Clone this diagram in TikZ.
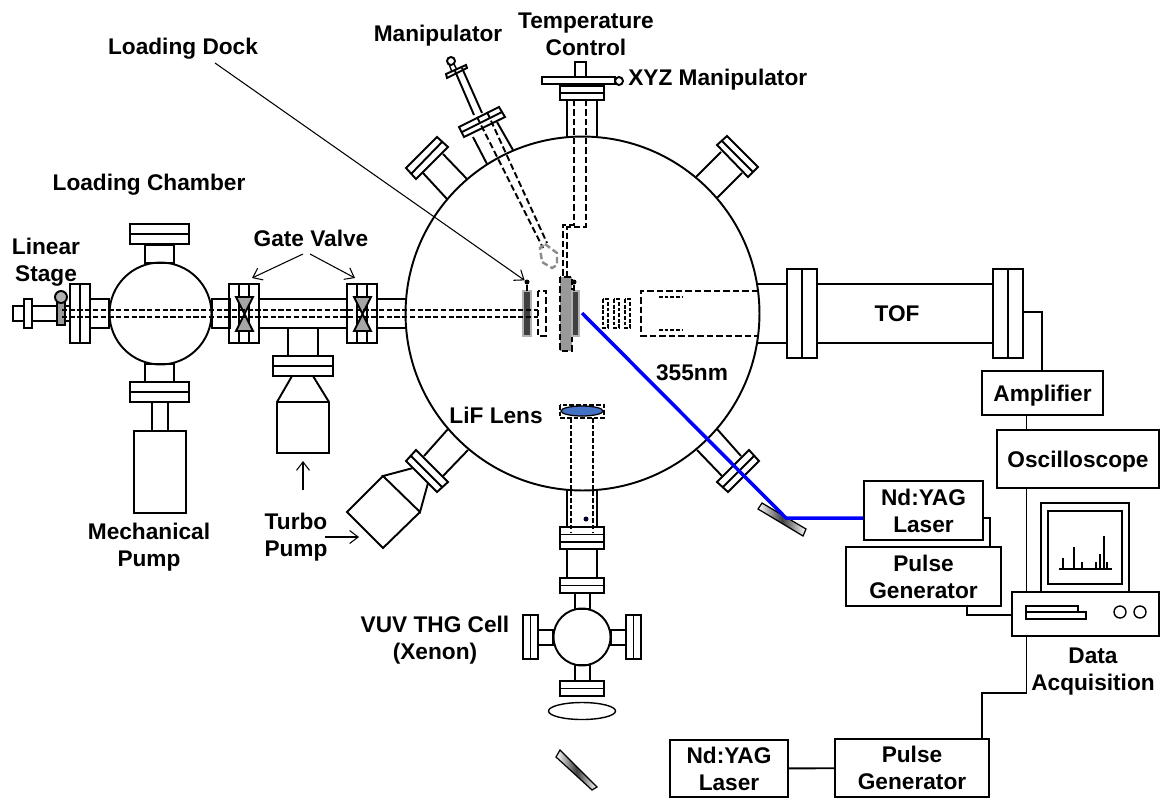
\documentclass[tikz,border=0pt]{standalone}
\usepackage{fontspec}
\setmainfont{Liberation Sans}
\usetikzlibrary{arrows.meta}
\definecolor{lensblue}{HTML}{4472C4}

\begin{document}
\begin{tikzpicture}[
    x=0.02cm, y=-0.02cm,
    part/.style={draw=black, line width=1.1pt, line join=miter},
    hidden/.style={draw=black, line width=1.1pt, dash pattern=on 3.6pt off 1.8pt},
    lbl/.style={font=\bfseries\fontsize{12.9pt}{15.5pt}\selectfont, align=center, inner sep=0pt},
    box/.style={lbl, draw=black, line width=1.1pt, inner sep=0pt},
    vessel/.style={circle, draw=black, line width=1.1pt, inner sep=0pt},
    wire/.style={draw=black, line width=1.1pt},
    arrow/.style={-{Straight Barb[length=1.7mm,width=2.6mm]}, draw=black, line width=0.6pt},
    beam/.style={draw=blue, line width=2pt, line join=round},
    mirrorbar/.style={part, line width=0.7pt, left color=white, right color=white, middle color=black!75}
]
\useasboundingbox (0,0) rectangle (1165,799);

% Chambers
\node[vessel, minimum size=7.08cm] (chamber) at (582.5,313.5) {};
\node[vessel, minimum size=2.04cm] (loadlock) at (160.5,313.5) {};
\node[vessel, minimum size=1.14cm] (cell) at (582,637) {};

% Flanges with the seam along x
\foreach \xa/\xb/\ya/\yb in {130/189/224/244, 130/189/382/402, 273/333/356/376, 560/604/86/100, 560/604/578/593, 560/604/681/696}
    \draw[part] (\xa,\ya) rectangle (\xb,\yb) (\xa,{(\ya+\yb)/2}) -- (\xb,{(\ya+\yb)/2});
% Flanges with the seam along y
\foreach \xa/\xb/\ya/\yb in {70/90/284/343, 523/538/615/659, 626/641/615/659, 787/817/269/358, 993/1023/269/358}
    \draw[part] (\xa,\ya) rectangle (\xb,\yb) ({(\xa+\xb)/2},\ya) -- ({(\xa+\xb)/2},\yb);

% Short pipes
\foreach \xa/\xb/\ya/\yb in {145/174/245/263, 145/174/364/382, 152/168/402/431, 90/109/299/328, 212/230/299/328, 259/347/299/328, 288/318/328/356, 567/597/549/578, 575/590/593/609, 575/590/665/681, 538/553/630/645, 611/626/630/645, 817/993/284/343}
    \draw[part] (\xa,\ya) rectangle (\xb,\yb);
\draw[part] (377,299) -- (406,299) (377,328) -- (406,328) (377,299) -- (377,328);
\draw[part] (787,284) -- (757,284) (787,343) -- (757,343);
\draw[part] (567,100) -- (567,137) (597,100) -- (597,137);
\draw[part] (567,490) -- (567,527) (597,490) -- (597,527);

% Gate valves
\foreach \xa in {229,347}{
    \draw[part] (\xa,284) rectangle (\xa+30,343) (\xa+10,284) -- (\xa+10,343) (\xa+20,284) -- (\xa+20,343);
    \draw[part, fill=black!35] (\xa+7,297) -- (\xa+24,297) -- (\xa+7,331) -- (\xa+24,331) -- cycle;
}

% Linear stage
\draw[part] (13,306) rectangle (24,321);
\draw[part] (24,299) rectangle (32,328);
\draw[part] (32,306) -- (70,306) (32,321) -- (70,321);
\draw[part, fill=black!40] (57,300) rectangle (65,325);
\draw[part, fill=black!30] (61,297) circle[radius=6];

% Mechanical and turbo pumps
\draw[part] (134,431) rectangle (186,513);
\draw[part] (292,376) -- (277,402) -- (277,453) -- (329,453) -- (329,402) -- (313,376) (277,402) -- (329,402);

% Angled ports
\draw[part] (406,168) -- (437,137) -- (448,147) -- (416,179) -- cycle (411,174) -- (442,142);
\draw[part] (423,173) -- (447,199) (443,154) -- (467,179);
\draw[part] (727,136) -- (758,167) -- (748,177) -- (717,145) -- cycle (722,141) -- (753,172);
\draw[part] (721,152) -- (696,177) (742,173) -- (717,198);
\draw[part] (416,450) -- (406,461) -- (437,492) -- (448,482) -- cycle (411,456) -- (442,487);
\draw[part] (448,429) -- (424,456) (468,450) -- (443,476);
\draw[part] (749,450) -- (759,461) -- (728,492) -- (717,482) -- cycle (754,456) -- (723,487);
\draw[part] (717,429) -- (741,456) (697,450) -- (722,476);
\draw[part] (413,468) -- (383,476) -- (420,512) -- (428,483) (383,476) -- (347,512) -- (383,548) -- (420,512);

% Manipulator
\draw[part] (459,127) -- (499,107) -- (505,117) -- (464,137) -- cycle (462,132) -- (502,112);
\draw[part] (473,137) -- (487,164) (497,122) -- (513,150);
\draw[part] (455,71) -- (474,115) (462,68) -- (482,113);
\draw[part] (446,74) -- (466,65) -- (467,68) -- (447,78) -- cycle;
\draw[part, line width=0.8pt] (449,64) -- (452,72) (454,64) -- (457,70);
\draw[part, fill=white] (451,61) circle[radius=4];
\draw[hidden] (477,117) -- (543,248) (487,112) -- (547,243);
\draw[hidden, draw=black!45, line width=1.4pt] (545,244) -- (557,253) -- (557,265) -- (552,268) -- (542,262) -- (540,248) -- cycle;

% Temperature control and XYZ stage
\draw[part] (575,62) rectangle (586,77);
\draw[part] (542,77) rectangle (615,84);
\draw[part] (560,84) -- (560,86) (604,84) -- (604,86);
\draw[part] (619,81) circle[radius=4];
\draw[hidden] (574,100) -- (574,225) -- (563,225) -- (563,277);
\draw[hidden] (586,100) -- (586,227) -- (567,227) -- (567,277);

% Sample holders inside the chamber
\draw[hidden, fill=black!40] (560,277) rectangle (572,351);
\draw[draw=black!30, line width=1pt, fill=black!75] (572,291) rectangle (579,336);
\draw[draw=black!30, line width=1pt, fill=black!75] (523,291) rectangle (531,336);
\draw[hidden] (538,291) rectangle (546,336);
\draw[hidden, dash pattern=on 3pt off 1.4pt] (62,310) -- (538,310) (62,317) -- (538,317);
\node[circle, fill=black, inner sep=0pt, minimum size=0.1cm] (dockpin) at (527,282) {};
\node[circle, fill=black, inner sep=0pt, minimum size=0.1cm] (samplepin) at (574,282) {};
\draw[part, line width=0.6pt] (dockpin) -- (527,291) (samplepin) -- (574,291);

% Ion optics and TOF entrance
\foreach \xa in {603,614,625}
    \draw[hidden, line width=0.9pt, dash pattern=on 2.2pt off 1pt] (\xa,299) rectangle (\xa+5,328);
\draw[hidden] (758,291) -- (641,291) -- (641,336) -- (758,336);
\draw[hidden, line width=0.9pt, dash pattern=on 2.2pt off 1pt] (659,297) -- (682,297) (659,330) -- (682,330);

% Lens and VUV cell
\draw[part, fill=lensblue, line width=0.7pt] (582,411) ellipse[x radius=21, y radius=5];
\draw[hidden, line width=0.9pt, dash pattern=on 2.6pt off 1.2pt] (560,405) rectangle (604,418);
\draw[hidden, line width=0.9pt, dash pattern=on 2.6pt off 1.2pt] (571,418) -- (571,533) (593,418) -- (593,533);
\draw[part] (560,527) rectangle (604,549) (560,534.5) -- (604,534.5) (560,542) -- (604,542);
\fill[black!85!blue] (586,519) circle[radius=2.5];
\draw[part, line width=0.8pt] (582,711) ellipse[x radius=33.5, y radius=8.5];
\draw[mirrorbar] (556,757) -- (560,750) -- (597,787) -- (592,790) -- cycle;

% Instrument boxes
\node[box, text depth=0pt, minimum width=2.42cm, minimum height=0.88cm] (amp) at (1042.5,393) {Amplifier};
\node[box, text depth=0pt, minimum width=3.24cm, minimum height=1.16cm] (osc) at (1078,459) {Oscilloscope};
\node[box, minimum width=2.38cm, minimum height=1.18cm] (yag) at (923.5,510.5) {Nd:YAG\\Laser};
\node[box, minimum width=3.1cm, minimum height=1.18cm] (pulse) at (923.5,576.5) {Pulse\\Generator};
\node[box, minimum width=2.36cm, minimum height=1.14cm] (yagb) at (729,768.5) {Nd:YAG\\Laser};
\node[box, minimum width=3.08cm, minimum height=1.16cm] (pulseb) at (912,768) {Pulse\\Generator};
\node[box, minimum width=2.94cm, minimum height=0.88cm] (pc) at (1085.5,614) {};

% Computer
\draw[part] (1041,592) -- (1041,503) -- (1129,503) -- (1129,592);
\draw[part] (1048,511) rectangle (1122,584);
\draw[part, line width=0.7pt] (1059,569) -- (1112,569);
\foreach \xa/\ya in {1063/558, 1074/547, 1082/562, 1096/562, 1100/554, 1104/536, 1107/562}
    \draw[part, line width=0.7pt] (\xa,569) -- (\xa,\ya);
\draw[part, line width=0.8pt] (1026,606) rectangle (1078,612) (1026,612) rectangle (1086,619);
\draw[part, line width=0.8pt] (1120,612) circle[radius=6] (1140,612) circle[radius=6];

% Wiring
\coordinate (tofend) at (1023,312);
\coordinate (toftap) at (1042,312);
\coordinate (bus) at (1026.5,693);
\coordinate (daqturn) at (982,693);
\coordinate (yagtap) at (990,518);
\coordinate (pulsetap) at (967,615);
\draw[wire] (tofend) -- (toftap) -- (amp.north -| toftap);
\draw[wire] (amp.south -| bus) -- (osc.north -| bus);
\draw[wire] (osc.south -| bus) -- (pc.north -| bus);
\draw[wire] (pc.south -| bus) -- (bus) -- (daqturn) -- (pulseb.north -| daqturn);
\draw[wire] (yagb) -- (pulseb);
\draw[wire] (yag.east |- yagtap) -- (yagtap) -- (pulse.north -| yagtap);
\draw[wire] (pulse.south -| pulsetap) -- (pulsetap) -- (pc.west |- pulsetap);

% Laser beam
\draw[mirrorbar] (762,503) -- (758,509) -- (803,536) -- (806,529) -- cycle;
\coordinate (mirrorhit) at (786,518);
\coordinate (focus) at (582,313);
\draw[beam] (yag.west |- mirrorhit) -- (mirrorhit) -- (focus);

% Labels
\node[lbl] (dock) at (183,49) {Loading Dock};
\node[lbl] (loading) at (149,185) {Loading Chamber};
\node[lbl] (manip) at (438,36) {Manipulator};
\node[lbl] (temp) at (586,34.5) {Temperature\\Control};
\node[lbl, anchor=west] (xyz) at (628,80) {XYZ Manipulator};
\node[lbl] (stage) at (46,262.5) {Linear\\Stage};
\node[lbl] (gate) at (311,238) {Gate Valve};
\node[lbl] (turbo) at (296,537) {Turbo\\Pump};
\node[lbl] (mech) at (149,547.5) {Mechanical\\Pump};
\node[lbl, anchor=east] (lif) at (543,415) {LiF Lens};
\node[lbl] (uv) at (692,373) {355nm};
\node[lbl] (vuv) at (435,640.5) {VUV THG Cell\\(Xenon)};
\node[lbl] (daq) at (1093,671.5) {Data\\Acquisition};
\node[lbl] (tof) at (897,314) {TOF};

% Pointers
\coordinate (dockstart) at (215,63);
\coordinate (gatel) at (303,254);
\coordinate (gater) at (310,254);
\coordinate (valvel) at (252,278);
\coordinate (valver) at (355,278);
\coordinate (turboa) at (303,490);
\coordinate (turbob) at (303,461);
\coordinate (turboc) at (325,537);
\coordinate (turbod) at (359,537);
\draw[arrow] (dockstart) -- (dockpin);
\draw[arrow] (gatel) -- (valvel);
\draw[arrow] (gater) -- (valver);
\draw[arrow] (turboa) -- (turbob);
\draw[arrow] (turboc) -- (turbod);

\end{tikzpicture}
\end{document}
